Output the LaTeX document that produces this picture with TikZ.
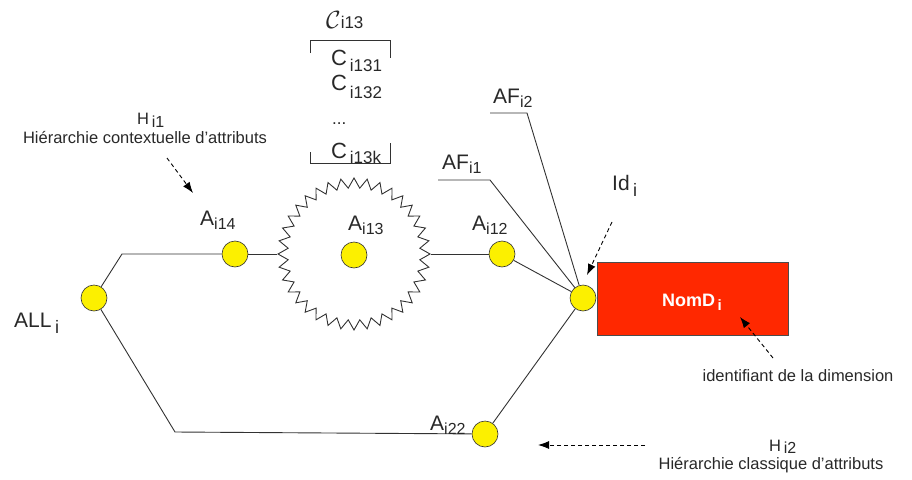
\documentclass[tikz,border=0pt]{standalone}
\usepackage{fontspec}
\setmainfont{Liberation Sans}
\usetikzlibrary{shapes.geometric,arrows.meta}
\definecolor{dotyellow}{RGB}{252,240,0}
\definecolor{boxred}{RGB}{255,40,0}
\definecolor{linegray}{RGB}{50,50,50}
\definecolor{txtgray}{RGB}{40,40,40}
\newcommand\sbs[3][15]{\raisebox{-#2pt}{\fontsize{#1}{#1}\selectfont #3}}
\tikzset{
  x=1pt,y=-1pt,
  dot/.style={circle,draw=black!80,line width=0.6pt,fill=dotyellow,minimum size=26pt,inner sep=0pt},
  conn/.style={draw=linegray,line width=0.9pt},
  big/.style={font=\fontsize{21}{21}\selectfont,text=txtgray,inner sep=0pt,anchor=base west},
  small/.style={font=\fontsize{16.5}{16.5}\selectfont,text=txtgray,inner sep=0pt,anchor=base},
  note/.style={dashed,line width=0.9pt,dash pattern=on 4pt off 3pt,-{Latex[length=11pt,width=8pt]}},
}
\begin{document}
\begin{tikzpicture}
\useasboundingbox (0,0) rectangle (912,479);
% nodes
\node[dot] (ALL) at (94,298) {};
\node[dot] (A14) at (235,254) {};
\node[star,star points=36,star point ratio=1.15,minimum size=152pt,inner sep=0pt,draw=linegray,line width=0.9pt] (star) at (354,254) {};
\node[dot] (A13) at (354,255) {};
\node[dot] (A12) at (502,254) {};
\node[dot] (Id) at (583,298) {};
\node[dot] (A22) at (485,434) {};
\node[draw=black!70,line width=0.6pt,fill=boxred,minimum width=191pt,minimum height=73pt,inner sep=0pt,anchor=north west] (NomD) at (597,262) {};
\node[font=\fontsize{18}{18}\selectfont\bfseries,text=white,inner sep=0pt,anchor=base west] (NomDt) at (662,306) {NomD\sbs[15]{4}{\,i}};
% coordinates
\coordinate (c1) at (122,254);
\coordinate (c2) at (175,432);
\coordinate (af1a) at (438,180);
\coordinate (af1b) at (490,180);
\coordinate (af2a) at (490,113);
\coordinate (af2b) at (527,113);
% connectors
\draw[conn] (ALL) -- (c1) -- (A14);
\draw[conn] (A14) -- (star.west);
\draw[conn] (star.east) -- (A12);
\draw[conn] (A12) -- (Id);
\draw[conn] (af1a) -- (af1b) -- (Id);
\draw[conn] (af2a) -- (af2b) -- (Id);
\draw[conn] (Id) -- (A22);
\draw[conn] (ALL) -- (c2) -- (A22);
% labels
\node[big] (lALL) at (14,327) {ALL\,\sbs[18]{6}{i}};
\node[big] (lA14) at (200,225) {A\sbs[16]{4}{i14}};
\node[big] (lA13) at (348,230) {A\sbs[16]{4}{i13}};
\node[big] (lA12) at (472,230) {A\sbs[16]{4}{i12}};
\node[big] (lA22) at (430,430) {A\sbs[16]{4}{i22}};
\node[big] (lAF1) at (442,169) {AF\sbs[16]{4}{i1}};
\node[big] (lAF2) at (493,103) {AF\sbs[16]{4}{i2}};
\node[big] (lId) at (612,190) {Id\,\sbs[18]{6}{i}};
% classes
\node[big,font=\fontsize{26}{26}\selectfont] (lC) at (326,28) {$\mathcal{C}$\sbs[17]{0}{i13}};
\node[big,font=\fontsize{22}{22}\selectfont] (lC1) at (331,65) {C\sbs[17]{6}{\,i131}};
\node[big,font=\fontsize{22}{22}\selectfont] (lC2) at (331,90) {C\sbs[17]{8}{\,i132}};
\node[big,font=\fontsize{17}{17}\selectfont] (ldots) at (332,124) {...};
\node[big,font=\fontsize{22}{22}\selectfont] (lCk) at (331,158) {C\sbs[17]{5}{\,i13k}};
\coordinate (bt1) at (310,53);
\coordinate (bt2) at (310,40);
\coordinate (bt3) at (390,40);
\coordinate (bt4) at (390,58);
\coordinate (bb1) at (310,152);
\coordinate (bb2) at (310,163);
\coordinate (bb3) at (390,163);
\coordinate (bb4) at (390,143);
\draw[conn,line width=0.8pt] (bt1) -- (bt2) -- (bt3) -- (bt4);
\draw[conn,line width=0.8pt] (bb1) -- (bb2) -- (bb3) -- (bb4);
% annotations
\node[small,anchor=base west] (lH1) at (137,124) {H\sbs[16]{3}{\,i1}};
\node[small] (tH1) at (145,143) {Hiérarchie contextuelle d'attributs};
\coordinate (h1s) at (167,158);
\coordinate (h1e) at (193,193);
\draw[note] (h1s) -- (h1e);
\node[small,anchor=base west] (lH2) at (769,451) {H\sbs[16]{2}{\,i2}};
\node[small] (tH2) at (771,469) {Hiérarchie classique d'attributs};
\coordinate (h2s) at (645,445);
\coordinate (h2e) at (538,445);
\draw[note] (h2s) -- (h2e);
\node[small] (tId) at (798,381) {identifiant de la dimension};
\coordinate (ids) at (773,358);
\coordinate (ide) at (740,317);
\draw[note] (ids) -- (ide);
\coordinate (is) at (612,222);
\coordinate (ie) at (587,275);
\draw[note] (is) -- (ie);
\end{tikzpicture}
\end{document}
